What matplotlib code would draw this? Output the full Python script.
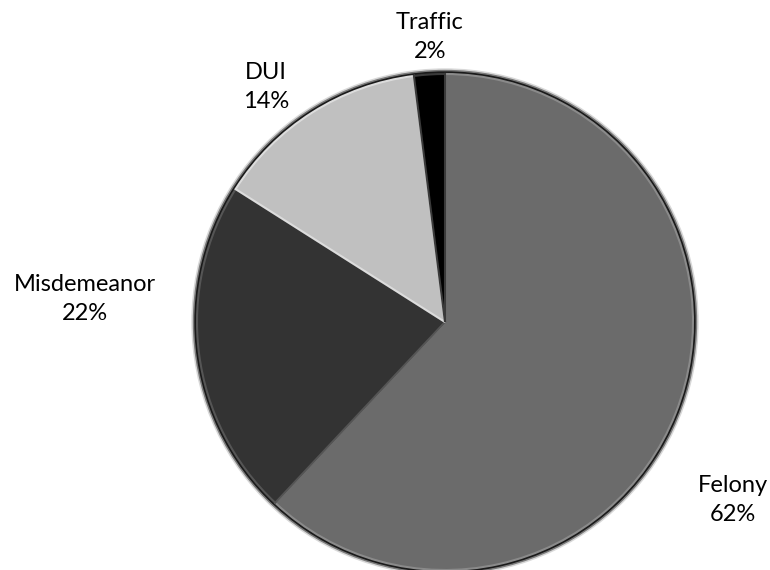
import matplotlib.pyplot as plt

# data
categories = ['Felony', 'Misdemeanor', 'DUI', 'Traffic']
shares = [62, 22, 14, 2]
colors = ['#6b6b6b', '#333333', '#c0c0c0', '#000000']
edges = ['#8a8a8a', '#555555', '#dcdcdc', '#3a3a3a']

# label centres in pixel coords (origin bottom-left)
label_pos = [(733, 70), (85, 271), (266, 483), (430, 533)]

fig = plt.figure(figsize=(7.7, 5.7), dpi=100)
ax = fig.add_axes([0, 0, 1, 1])
ax.set_xlim(0, 770)
ax.set_ylim(0, 570)
ax.set_aspect('equal')
ax.axis('off')

# soft dark rim behind the pie
for r, c in [(253, '#d8d8d8'), (251.5, '#7a7a7a'), (250, '#1a1a1a')]:
    ax.add_patch(plt.Circle((445, 248), r, color=c, zorder=0))

wedges, _ = ax.pie(shares, colors=colors, startangle=90, counterclock=False,
                   center=(445, 248), radius=248,
                   wedgeprops=dict(linewidth=1.5))
for w, ec in zip(wedges, edges):
    w.set_edgecolor(ec)
ax.set_xlim(0, 770)
ax.set_ylim(0, 570)

for name, val, (x, y) in zip(categories, shares, label_pos):
    ax.text(x, y, f'{name}\n{val}%', ha='center', va='center',
            fontsize=17, family='Lato', linespacing=1.45)

fig.savefig('out.png', dpi=100)
